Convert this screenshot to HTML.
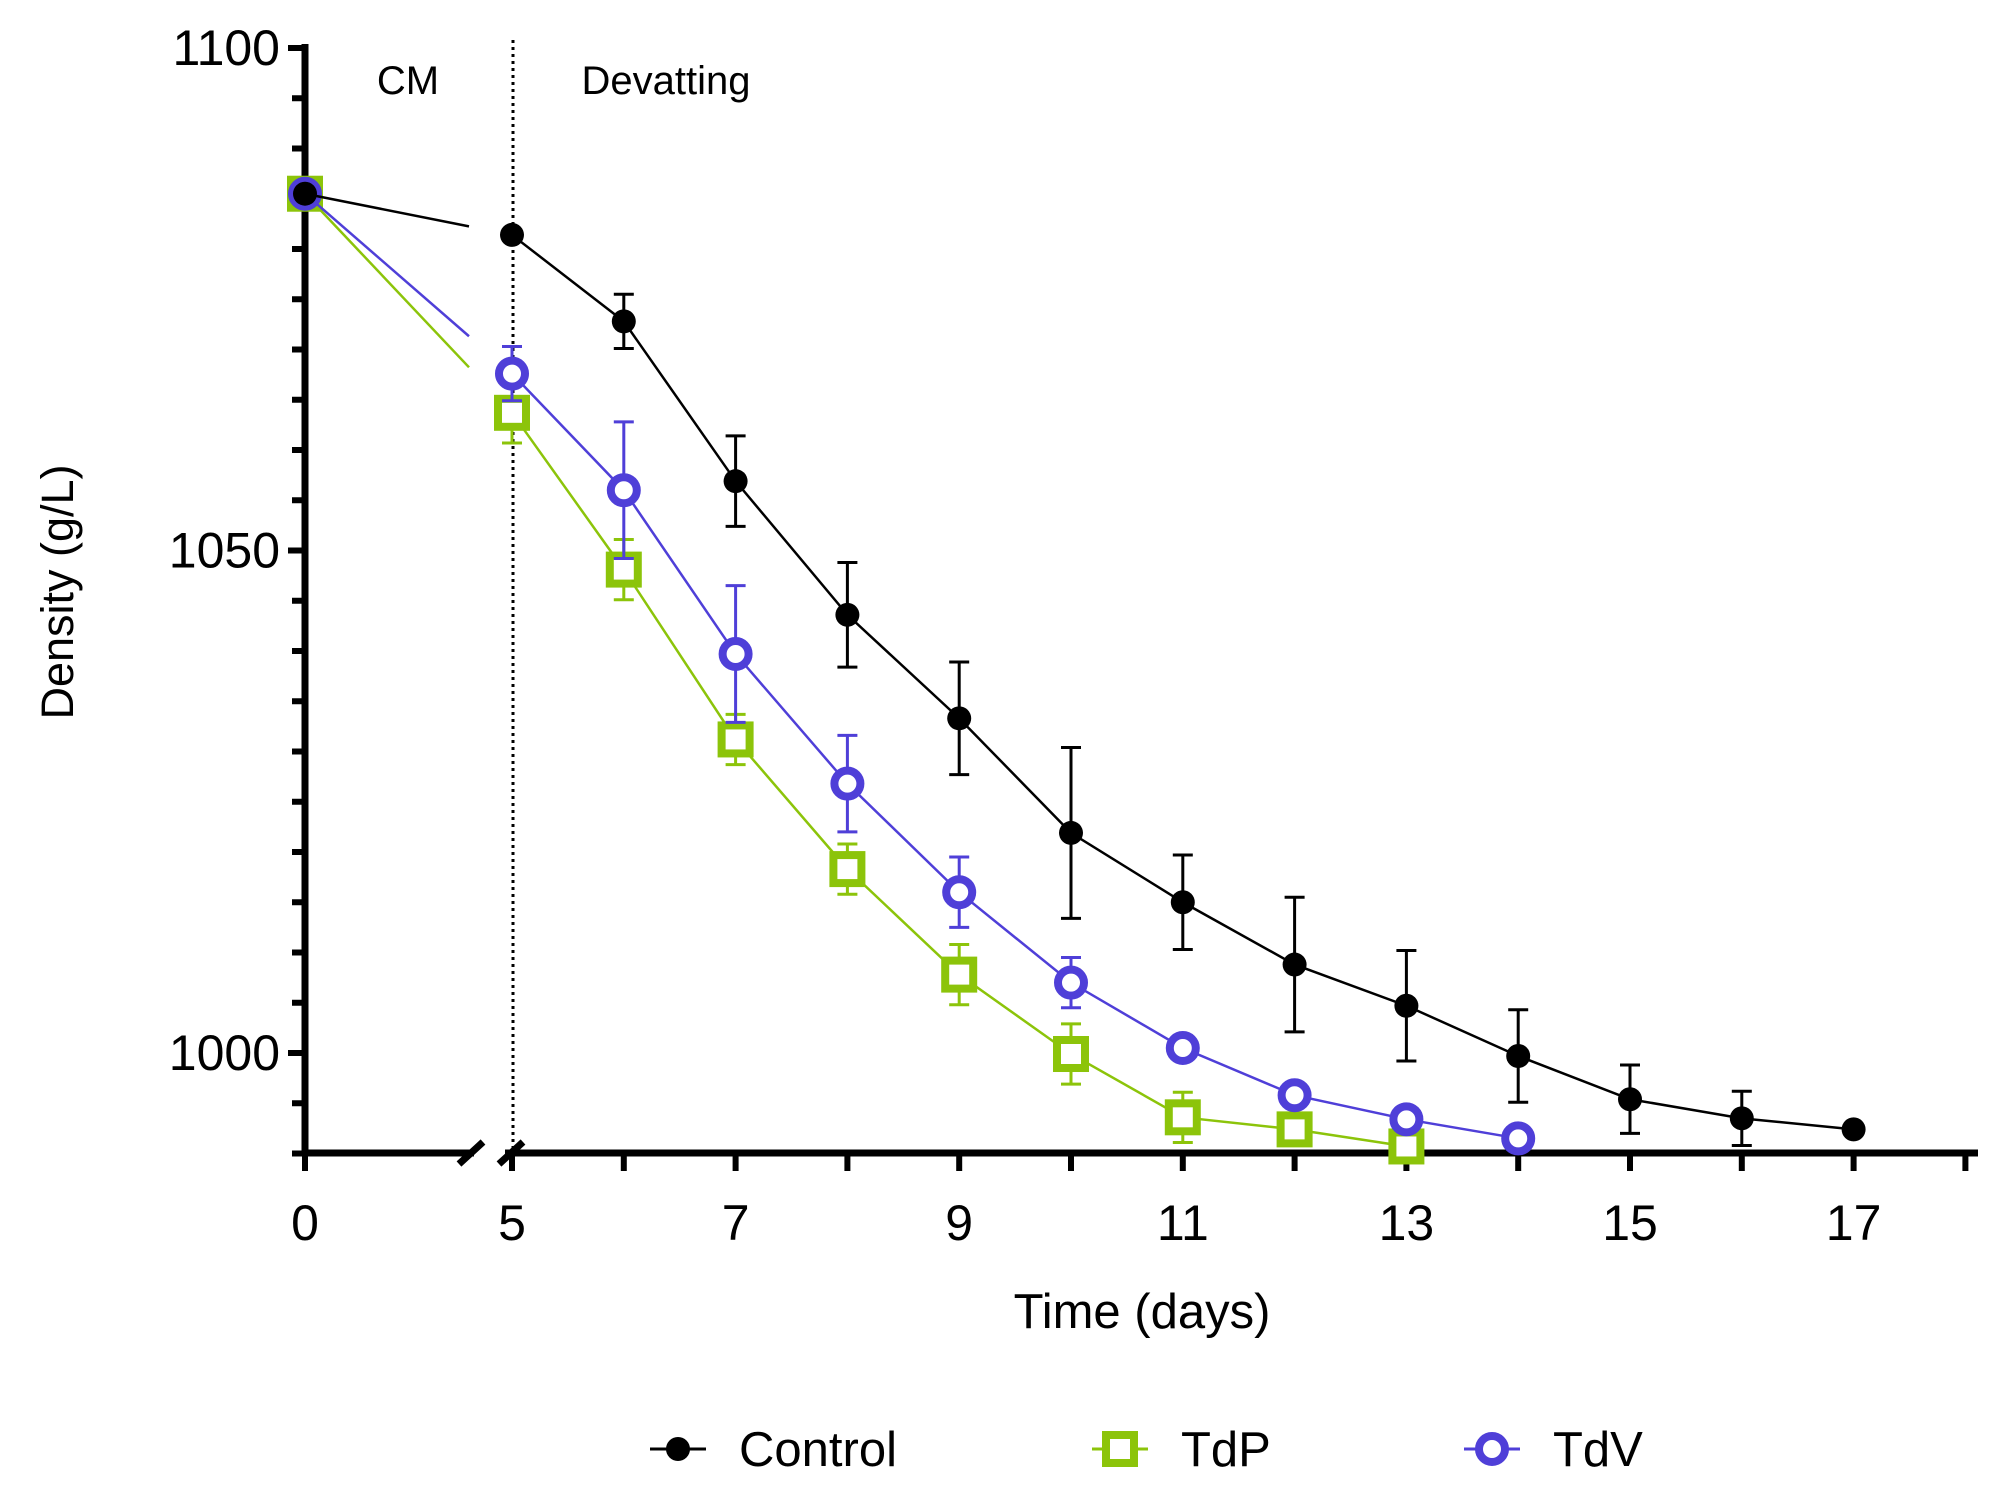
<!DOCTYPE html>
<html><head><meta charset="utf-8"><style>
html,body{margin:0;padding:0;background:#fff;}
svg{display:block;font-family:"Liberation Sans",Arial,sans-serif;}
</style></head><body>
<svg id="chart" width="2006" height="1498" viewBox="0 0 2006 1498" xmlns="http://www.w3.org/2000/svg">
<g id="axes"></g>
<g id="plot"></g>
<g id="legend"></g>
</svg>
<script>
const days = [0,5,6,7,8,9,10,11,12,13,14,15,16,17];
const controlValues = [1085.5,1081.4,1072.8,1056.9,1043.6,1033.3,1021.9,1015.0,1008.8,1004.7,999.7,995.4,993.5,992.4];
const controlErrors = [0,0,2.7,4.5,5.2,5.6,8.5,4.7,6.7,5.5,4.6,3.4,2.7,0];
const tdpDays = [0,5,6,7,8,9,10,11,12,13];
const tdpValues = [1085.5,1063.7,1048.1,1031.2,1018.3,1007.8,999.9,993.6,992.4,990.7];
const tdpErrors = [0,3,3,2.5,2.5,3,3,2.5,1,0.5];
const tdvDays = [0,5,6,7,8,9,10,11,12,13,14];
const tdvValues = [1085.5,1067.6,1056.0,1039.7,1026.8,1016.0,1007.0,1000.5,995.8,993.4,991.5];
const tdvErrors = [0,2.7,6.8,6.8,4.8,3.5,2.5,0,0,0,0];
const yTickLabels = [1100,1050,1000];
const xTickLabels = [0,5,7,9,11,13,15,17];

const NS="http://www.w3.org/2000/svg";
const Y0=1053, PXU=10.05;
function yS(v){return Y0-(v-1000)*PXU;}
function xS(d){return d<=5?305+d*41.4:512+(d-5)*111.8;}
const AXY=1153;
function mk(parent,tag,attrs,text){const e=document.createElementNS(NS,tag);for(const k in attrs)e.setAttribute(k,attrs[k]);if(text!==undefined)e.textContent=text;parent.appendChild(e);return e;}
const axes=document.getElementById('axes'), plot=document.getElementById('plot'), legend=document.getElementById('legend');

let ya=mk(axes,'line',{x1:305,y1:44,x2:305,y2:AXY+3,stroke:'#000','stroke-width':7});


for(let v=990;v<=1100;v+=5){
  const major=(v%50===0);
  let t=mk(axes,'line',{x1:major?288:292,y1:yS(v),x2:305,y2:yS(v),stroke:'#000','stroke-width':6});
  
  
}
yTickLabels.forEach(v=>{
  let t=mk(axes,'text',{x:280,y:yS(v)+17,'text-anchor':'end','font-size':50,fill:'#000'},String(v));
  
  
});
let xa1=mk(axes,'line',{x1:302,y1:AXY,x2:474,y2:AXY,stroke:'#000','stroke-width':7});


let xa2=mk(axes,'line',{x1:505,y1:AXY,x2:1978,y2:AXY,stroke:'#000','stroke-width':7});


[[459,AXY+11,483,AXY-11],[499,AXY+11,523,AXY-11]].forEach(c=>{
  let b=mk(axes,'line',{x1:c[0],y1:c[1],x2:c[2],y2:c[3],stroke:'#000','stroke-width':7});
  
  
});
[0,5,6,7,8,9,10,11,12,13,14,15,16,17,18].forEach(d=>{
  let t=mk(axes,'line',{x1:xS(d),y1:AXY,x2:xS(d),y2:AXY+18,stroke:'#000','stroke-width':6});
  
  
});
xTickLabels.forEach(d=>{
  let t=mk(axes,'text',{x:xS(d),y:1240,'text-anchor':'middle','font-size':50,fill:'#000'},String(d));
  
  
});
let yt=mk(axes,'text',{x:0,y:0,transform:'translate(73,592) rotate(-90)','text-anchor':'middle','font-size':45,fill:'#000'},'Density (g/L)');


let xt=mk(axes,'text',{x:1142,y:1328,'text-anchor':'middle','font-size':49,fill:'#000'},'Time (days)');


let dv=mk(axes,'line',{x1:513,y1:40,x2:513,y2:AXY,stroke:'#000','stroke-width':3,'stroke-dasharray':'3,4'});


let cm=mk(axes,'text',{x:408,y:94,'text-anchor':'middle','font-size':40,fill:'#000'},'CM');


let dvl=mk(axes,'text',{x:666,y:94,'text-anchor':'middle','font-size':40,fill:'#000'},'Devatting');



function drawMarker(g,kind,color,x,y){
  if(kind==='dot'){mk(g,'circle',{cx:x,cy:y,r:12,fill:color});}
  else if(kind==='square'){mk(g,'rect',{x:x-14,y:y-14,width:28,height:28,fill:'#fff',stroke:color,'stroke-width':8});}
  else {mk(g,'circle',{cx:x,cy:y,r:13,fill:'#fff',stroke:color,'stroke-width':8});}
}
function series(name,xs,vals,errs,color,kind){
  const g=mk(plot,'g',{});
  
  
  const x0=xS(xs[0]),y0=yS(vals[0]),x1=xS(xs[1]),y1=yS(vals[1]);
  const xc=469, yc=y0+(y1-y0)*(xc-x0)/(x1-x0);
  let l0=mk(g,'line',{x1:x0,y1:y0,x2:xc,y2:yc,stroke:color,'stroke-width':2.5});
  
  
  let pts=[];for(let i=1;i<xs.length;i++)pts.push(xS(xs[i])+','+yS(vals[i]));
  let pl=mk(g,'polyline',{points:pts.join(' '),fill:'none',stroke:color,'stroke-width':2.5});
  
  
  for(let i=0;i<xs.length;i++){
    if(errs[i]>0){
      const x=xS(xs[i]),yt=yS(vals[i]+errs[i]),yb=yS(vals[i]-errs[i]);
      const eb=mk(g,'path',{d:`M${x},${yt}V${yb}M${x-10},${yt}H${x+10}M${x-10},${yb}H${x+10}`,stroke:color,'stroke-width':3,fill:'none'});
      
      
    }
  }
  for(let i=0;i<xs.length;i++){
    const mg=mk(g,'g',{});
    
    
    drawMarker(mg,kind,color,xS(xs[i]),yS(vals[i]));
  }
}
const GREEN='#8cc40a', BLUE='#4f3fd8';
series('tdp',tdpDays,tdpValues,tdpErrors,GREEN,'square');
series('tdv',tdvDays,tdvValues,tdvErrors,BLUE,'ring');
series('control',days,controlValues,controlErrors,'#000','dot');

[['control','Control','#000','dot',678,739],['tdp','TdP',GREEN,'square',1120,1181],['tdv','TdV',BLUE,'ring',1492,1553]].forEach(e=>{
  const g=mk(legend,'g',{});
  
  
  mk(g,'line',{x1:e[4]-28,y1:1449,x2:e[4]+28,y2:1449,stroke:e[2],'stroke-width':3});
  drawMarker(g,e[3],e[2],e[4],1449);
  mk(g,'text',{x:e[5],y:1466,'font-size':49,fill:'#000'},e[1]);
});
</script>
</body></html>
